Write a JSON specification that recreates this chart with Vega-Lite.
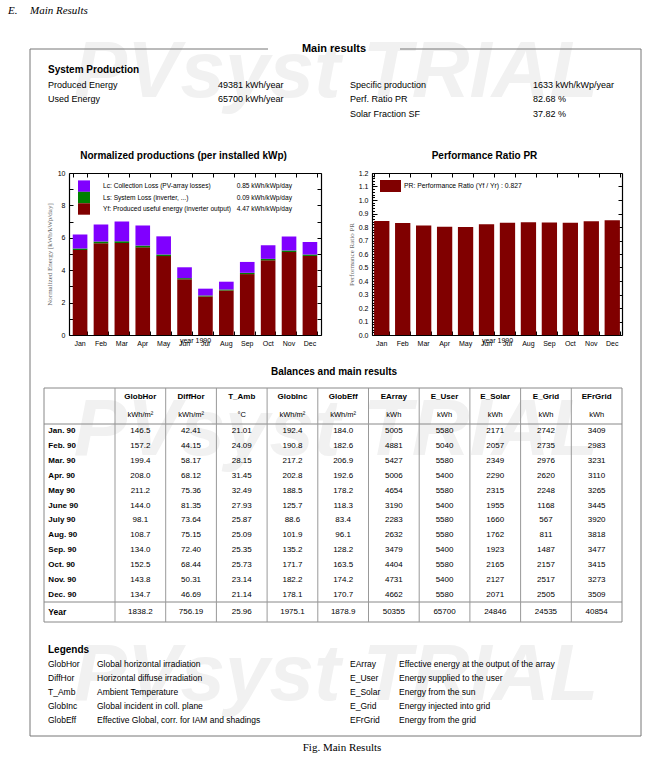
{
  "$schema": "https://vega.github.io/schema/vega-lite/v6.json",
  "padding": 0,
  "background": "white",
  "spacing": 0,
  "bounds": "flush",
  "config": {
    "view": {"stroke": null},
    "font": "Liberation Sans",
    "text": {"font": "Liberation Sans", "fontSize": 9, "color": "#000", "baseline": "middle", "align": "left"},
    "rule": {"color": "#777", "strokeWidth": 1},
    "concat": {"spacing": 0},
    "axis": {"labelFont": "Liberation Sans", "titleFont": "Liberation Sans", "labelColor": "#000", "tickColor": "#000", "domain": false, "grid": false}
  },
  "datasets": {
    "one": [{}],
    "sysprod": [
      {"col": "L", "row": "1", "label": "Produced Energy", "value": "49381 kWh/year"},
      {"col": "L", "row": "2", "label": "Used Energy", "value": "65700 kWh/year"},
      {"col": "R", "row": "1", "label": "Specific production", "value": "1633 kWh/kWp/year"},
      {"col": "R", "row": "2", "label": "Perf. Ratio PR", "value": "82.68 %"},
      {"col": "R", "row": "3", "label": "Solar Fraction SF", "value": "37.82 %"}
    ],
    "norm": [
      {"m": "Jan", "Yf": 5.24, "Ls": 0.10, "Lc": 0.87},
      {"m": "Feb", "Yf": 5.66, "Ls": 0.11, "Lc": 1.05},
      {"m": "Mar", "Yf": 5.68, "Ls": 0.11, "Lc": 1.22},
      {"m": "Apr", "Yf": 5.41, "Ls": 0.11, "Lc": 1.24},
      {"m": "May", "Yf": 4.87, "Ls": 0.10, "Lc": 1.12},
      {"m": "Jun", "Yf": 3.44, "Ls": 0.07, "Lc": 0.67},
      {"m": "Jul", "Yf": 2.38, "Ls": 0.06, "Lc": 0.42},
      {"m": "Aug", "Yf": 2.75, "Ls": 0.06, "Lc": 0.48},
      {"m": "Sep", "Yf": 3.76, "Ls": 0.08, "Lc": 0.67},
      {"m": "Oct", "Yf": 4.61, "Ls": 0.09, "Lc": 0.84},
      {"m": "Nov", "Yf": 5.12, "Ls": 0.10, "Lc": 0.86},
      {"m": "Dec", "Yf": 4.88, "Ls": 0.09, "Lc": 0.77}
    ],
    "pr": [
      {"m": "Jan", "pr": 0.845}, {"m": "Feb", "pr": 0.830}, {"m": "Mar", "pr": 0.811},
      {"m": "Apr", "pr": 0.801}, {"m": "May", "pr": 0.800}, {"m": "Jun", "pr": 0.821},
      {"m": "Jul", "pr": 0.831}, {"m": "Aug", "pr": 0.835}, {"m": "Sep", "pr": 0.834},
      {"m": "Oct", "pr": 0.832}, {"m": "Nov", "pr": 0.843}, {"m": "Dec", "pr": 0.850}
    ],
    "normLegend": [
      {"item": "Lc", "label": "Lc: Collection Loss (PV-array losses)", "val": "0.85 kWh/kWp/day"},
      {"item": "Ls", "label": "Ls: System Loss (inverter, ...)", "val": "0.09 kWh/kWp/day"},
      {"item": "Yf", "label": "Yf: Produced useful energy (inverter output)", "val": "4.47 kWh/kWp/day"}
    ],
    "prLegend": [
      {"item": "PR", "label": "PR: Performance Ratio (Yf / Yr) :  0.827"}
    ],
    "tblHead": [
      {"col": "GlobHor", "unit": "kWh/m²"}, {"col": "DiffHor", "unit": "kWh/m²"},
      {"col": "T_Amb", "unit": "°C"}, {"col": "GlobInc", "unit": "kWh/m²"},
      {"col": "GlobEff", "unit": "kWh/m²"}, {"col": "EArray", "unit": "kWh"},
      {"col": "E_User", "unit": "kWh"}, {"col": "E_Solar", "unit": "kWh"},
      {"col": "E_Grid", "unit": "kWh"}, {"col": "EFrGrid", "unit": "kWh"}
    ],
    "tbl": [
      {"month": "Jan. 90", "GlobHor": 146.5, "DiffHor": 42.41, "T_Amb": 21.01, "GlobInc": 192.4, "GlobEff": 184.0, "EArray": 5005, "E_User": 5580, "E_Solar": 2171, "E_Grid": 2742, "EFrGrid": 3409},
      {"month": "Feb. 90", "GlobHor": 157.2, "DiffHor": 44.15, "T_Amb": 24.09, "GlobInc": 190.8, "GlobEff": 182.6, "EArray": 4881, "E_User": 5040, "E_Solar": 2057, "E_Grid": 2735, "EFrGrid": 2983},
      {"month": "Mar. 90", "GlobHor": 199.4, "DiffHor": 58.17, "T_Amb": 28.15, "GlobInc": 217.2, "GlobEff": 206.9, "EArray": 5427, "E_User": 5580, "E_Solar": 2349, "E_Grid": 2976, "EFrGrid": 3231},
      {"month": "Apr. 90", "GlobHor": 208.0, "DiffHor": 68.12, "T_Amb": 31.45, "GlobInc": 202.8, "GlobEff": 192.6, "EArray": 5006, "E_User": 5400, "E_Solar": 2290, "E_Grid": 2620, "EFrGrid": 3110},
      {"month": "May 90", "GlobHor": 211.2, "DiffHor": 75.36, "T_Amb": 32.49, "GlobInc": 188.5, "GlobEff": 178.2, "EArray": 4654, "E_User": 5580, "E_Solar": 2315, "E_Grid": 2248, "EFrGrid": 3265},
      {"month": "June 90", "GlobHor": 144.0, "DiffHor": 81.35, "T_Amb": 27.93, "GlobInc": 125.7, "GlobEff": 118.3, "EArray": 3190, "E_User": 5400, "E_Solar": 1955, "E_Grid": 1168, "EFrGrid": 3445},
      {"month": "July 90", "GlobHor": 98.1, "DiffHor": 73.64, "T_Amb": 25.87, "GlobInc": 88.6, "GlobEff": 83.4, "EArray": 2283, "E_User": 5580, "E_Solar": 1660, "E_Grid": 567, "EFrGrid": 3920},
      {"month": "Aug. 90", "GlobHor": 108.7, "DiffHor": 75.15, "T_Amb": 25.09, "GlobInc": 101.9, "GlobEff": 96.1, "EArray": 2632, "E_User": 5580, "E_Solar": 1762, "E_Grid": 811, "EFrGrid": 3818},
      {"month": "Sep. 90", "GlobHor": 134.0, "DiffHor": 72.40, "T_Amb": 25.35, "GlobInc": 135.2, "GlobEff": 128.2, "EArray": 3479, "E_User": 5400, "E_Solar": 1923, "E_Grid": 1487, "EFrGrid": 3477},
      {"month": "Oct. 90", "GlobHor": 152.5, "DiffHor": 68.44, "T_Amb": 25.73, "GlobInc": 171.7, "GlobEff": 163.5, "EArray": 4404, "E_User": 5580, "E_Solar": 2165, "E_Grid": 2157, "EFrGrid": 3415},
      {"month": "Nov. 90", "GlobHor": 143.8, "DiffHor": 50.31, "T_Amb": 23.14, "GlobInc": 182.2, "GlobEff": 174.2, "EArray": 4731, "E_User": 5400, "E_Solar": 2127, "E_Grid": 2517, "EFrGrid": 3273},
      {"month": "Dec. 90", "GlobHor": 134.7, "DiffHor": 46.69, "T_Amb": 21.14, "GlobInc": 178.1, "GlobEff": 170.7, "EArray": 4662, "E_User": 5580, "E_Solar": 2071, "E_Grid": 2505, "EFrGrid": 3509},
      {"month": "Year", "GlobHor": 1838.2, "DiffHor": 756.19, "T_Amb": 25.96, "GlobInc": 1975.1, "GlobEff": 1878.9, "EArray": 50355, "E_User": 65700, "E_Solar": 24846, "E_Grid": 24535, "EFrGrid": 40854}
    ],
    "legend": [
      {"col": "L", "row": "1", "code": "GlobHor", "desc": "Global horizontal irradiation"},
      {"col": "L", "row": "2", "code": "DiffHor", "desc": "Horizontal diffuse irradiation"},
      {"col": "L", "row": "3", "code": "T_Amb", "desc": "Ambient Temperature"},
      {"col": "L", "row": "4", "code": "GlobInc", "desc": "Global incident in coll. plane"},
      {"col": "L", "row": "5", "code": "GlobEff", "desc": "Effective Global, corr. for IAM and shadings"},
      {"col": "R", "row": "1", "code": "EArray", "desc": "Effective energy at the output of the array"},
      {"col": "R", "row": "2", "code": "E_User", "desc": "Energy supplied to the user"},
      {"col": "R", "row": "3", "code": "E_Solar", "desc": "Energy from the sun"},
      {"col": "R", "row": "4", "code": "E_Grid", "desc": "Energy injected into grid"},
      {"col": "R", "row": "5", "code": "EFrGrid", "desc": "Energy from the grid"}
    ]
  },
  "vconcat": [
    {
      "width": 648, "height": 60,
      "data": {"name": "one"},
      "layer": [
        {"mark": {"type": "text", "align": "center", "baseline": "alphabetic", "fontSize": 80, "fontWeight": "bold", "fontStyle": "italic", "color": "#f1f1f1"},
         "encoding": {"x": {"datum": 336, "type": "quantitative", "scale": {"domain": [0, 648], "nice": false, "zero": false}, "axis": null},
                      "y": {"datum": 97, "type": "quantitative", "scale": {"domain": [60, 0], "nice": false, "zero": false}, "axis": null},
                      "text": {"value": "PVsyst TRIAL"}}},
        {"mark": {"type": "text", "font": "Liberation Serif", "fontStyle": "italic", "fontSize": 11},
         "encoding": {"x": {"datum": 8, "type": "quantitative"}, "y": {"datum": 11, "type": "quantitative"}, "text": {"value": "E."}}},
        {"mark": {"type": "text", "font": "Liberation Serif", "fontStyle": "italic", "fontSize": 11},
         "encoding": {"x": {"datum": 30, "type": "quantitative"}, "y": {"datum": 11, "type": "quantitative"}, "text": {"value": "Main Results"}}},
        {"mark": {"type": "rule"},
         "encoding": {"x": {"datum": 30, "type": "quantitative"}, "x2": {"datum": 268}, "y": {"datum": 49, "type": "quantitative"}}},
        {"mark": {"type": "rule"},
         "encoding": {"x": {"datum": 400, "type": "quantitative"}, "x2": {"datum": 641}, "y": {"datum": 49, "type": "quantitative"}}},
        {"mark": {"type": "text", "align": "center", "fontSize": 11, "fontWeight": "bold"},
         "encoding": {"x": {"datum": 334, "type": "quantitative"}, "y": {"datum": 49, "type": "quantitative"}, "text": {"value": "Main results"}}},
        {"mark": {"type": "rule"},
         "encoding": {"x": {"datum": 30, "type": "quantitative"}, "y": {"datum": 49, "type": "quantitative"}, "y2": {"datum": 60}}},
        {"mark": {"type": "rule"},
         "encoding": {"x": {"datum": 641, "type": "quantitative"}, "y": {"datum": 49, "type": "quantitative"}, "y2": {"datum": 60}}}
      ]
    },
    {
      "width": 648, "height": 113,
      "layer": [
        {"data": {"name": "one"},
         "mark": {"type": "text", "fontSize": 10, "fontWeight": "bold"},
         "encoding": {"x": {"datum": 48, "type": "quantitative", "scale": {"domain": [0, 648], "nice": false, "zero": false}, "axis": null},
                      "y": {"datum": "h", "type": "nominal", "scale": {"type": "point", "domain": ["h", "1", "2", "3"], "range": [10, 53.5], "padding": 0}, "axis": null},
                      "text": {"value": "System Production"}}},
        {"data": {"name": "sysprod"}, "transform": [{"filter": {"field": "col", "equal": "L"}}],
         "mark": {"type": "text", "fontSize": 9},
         "encoding": {"x": {"datum": 48, "type": "quantitative"}, "y": {"field": "row", "type": "nominal"}, "text": {"field": "label"}}},
        {"data": {"name": "sysprod"}, "transform": [{"filter": {"field": "col", "equal": "L"}}],
         "mark": {"type": "text", "fontSize": 9},
         "encoding": {"x": {"datum": 218, "type": "quantitative"}, "y": {"field": "row", "type": "nominal"}, "text": {"field": "value"}}},
        {"data": {"name": "sysprod"}, "transform": [{"filter": {"field": "col", "equal": "R"}}],
         "mark": {"type": "text", "fontSize": 9},
         "encoding": {"x": {"datum": 350, "type": "quantitative"}, "y": {"field": "row", "type": "nominal"}, "text": {"field": "label"}}},
        {"data": {"name": "sysprod"}, "transform": [{"filter": {"field": "col", "equal": "R"}}],
         "mark": {"type": "text", "fontSize": 9},
         "encoding": {"x": {"datum": 533, "type": "quantitative"}, "y": {"field": "row", "type": "nominal"}, "text": {"field": "value"}}},
        {"data": {"name": "one"}, "mark": {"type": "rule"}, "encoding": {"x": {"datum": 30, "type": "quantitative"}}},
        {"data": {"name": "one"}, "mark": {"type": "rule"}, "encoding": {"x": {"datum": 641, "type": "quantitative"}}}
      ]
    },
    {
      "width": 648, "height": 162,
      "layer": [
        {
          "data": {"name": "norm"},
          "transform": [{"fold": ["Yf", "Ls", "Lc"], "as": ["comp", "v"]}],
          "layer": [
            {"mark": {"type": "bar"},
             "encoding": {
               "x": {"field": "m", "type": "nominal", "scale": {"domain": ["Jan","Feb","Mar","Apr","May","Jun","Jul","Aug","Sep","Oct","Nov","Dec"], "range": [69, 321], "paddingInner": 0.3, "paddingOuter": 0.18},
                     "axis": {"orient": "bottom", "labelFontSize": 7, "labelAngle": 0, "labelPadding": 4, "ticks": false, "domain": true, "domainColor": "#000", "domainWidth": 1.2, "title": "year 1990", "titleFontSize": 7, "titleFontWeight": "normal", "titlePadding": -10}},
               "y": {"field": "v", "type": "quantitative", "stack": "zero", "scale": {"domain": [0, 10], "nice": false},
                     "axis": {"orient": "left", "offset": -69, "values": [0, 2, 4, 6, 8, 10], "labelFontSize": 7, "labelPadding": 4, "ticks": false, "domain": true, "domainColor": "#000", "domainWidth": 1.2, "grid": false, "title": "Normalized Energy [kWh/kWp/day]", "titleFont": "Liberation Serif", "titleFontSize": 7, "titleFontWeight": "normal", "titleColor": "#666", "titlePadding": 5}},
               "color": {"field": "comp", "type": "nominal", "scale": {"domain": ["Lc", "Ls", "Yf"], "range": ["#8000ff", "#008000", "#800000"]}, "legend": null},
               "order": {"field": "comp", "type": "nominal", "sort": "descending"}
             }},
            {"mark": {"type": "bar", "opacity": 0},
             "encoding": {
               "x": {"field": "m", "type": "nominal", "axis": {"orient": "bottom", "labels": false, "tickSize": -4, "tickBand": "extent", "title": null}},
               "y": {"field": "v", "type": "quantitative", "stack": "zero", "axis": {"orient": "left", "offset": -69, "values": [0,1,2,3,4,5,6,7,8,9,10], "labels": false, "tickSize": -4, "grid": false, "title": null}},
               "order": {"field": "comp", "type": "nominal", "sort": "descending"}
             }},
            {"mark": {"type": "bar", "opacity": 0},
             "encoding": {
               "x": {"field": "m", "type": "nominal", "axis": {"orient": "top", "labels": false, "tickSize": -4, "tickBand": "extent", "domain": true, "domainColor": "#000", "domainWidth": 1.2, "title": "Normalized productions (per installed kWp)", "titleFontSize": 10, "titleFontWeight": "bold", "titleColor": "#000", "titleX": 183, "titlePadding": 12}},
               "y": {"field": "v", "type": "quantitative", "stack": "zero", "axis": {"orient": "right", "offset": -327, "values": [0,1,2,3,4,5,6,7,8,9,10], "labels": false, "tickSize": -4, "domain": true, "domainColor": "#000", "domainWidth": 1.2, "grid": false, "title": null}},
               "order": {"field": "comp", "type": "nominal", "sort": "descending"}
             }}
          ],
          "resolve": {"axis": {"x": "independent", "y": "independent"}}
        },
        {
          "data": {"name": "pr"},
          "layer": [
            {"mark": {"type": "bar", "color": "#800000"},
             "encoding": {
               "x": {"field": "m", "type": "nominal", "scale": {"domain": ["Jan","Feb","Mar","Apr","May","Jun","Jul","Aug","Sep","Oct","Nov","Dec"], "range": [372, 622], "paddingInner": 0.27, "paddingOuter": 0.1},
                     "axis": {"orient": "bottom", "labelFontSize": 7, "labelAngle": 0, "labelPadding": 4, "ticks": false, "domain": true, "domainColor": "#000", "domainWidth": 1.2, "title": "year 1990", "titleFontSize": 7, "titleFontWeight": "normal", "titlePadding": -10}},
               "y": {"field": "pr", "type": "quantitative", "scale": {"domain": [0, 1.2], "nice": false},
                     "axis": {"orient": "left", "offset": -372, "values": [0,0.1,0.2,0.3,0.4,0.5,0.6,0.7,0.8,0.9,1,1.1,1.2], "format": ".1f", "labelFontSize": 7, "labelPadding": 4, "ticks": false, "domain": true, "domainColor": "#000", "domainWidth": 1.2, "grid": false, "title": "Performance Ratio PR", "titleFont": "Liberation Serif", "titleFontSize": 7, "titleFontWeight": "normal", "titleColor": "#666", "titlePadding": 4}}
             }},
            {"mark": {"type": "bar", "opacity": 0},
             "encoding": {
               "x": {"field": "m", "type": "nominal", "axis": {"orient": "bottom", "labels": false, "tickSize": -4, "tickBand": "extent", "title": null}},
               "y": {"field": "pr", "type": "quantitative", "axis": {"orient": "left", "offset": -372, "values": [0,0.1,0.2,0.3,0.4,0.5,0.6,0.7,0.8,0.9,1,1.1,1.2], "labels": false, "tickSize": -5, "grid": false, "title": null}}
             }},
            {"mark": {"type": "bar", "opacity": 0},
             "encoding": {
               "x": {"field": "m", "type": "nominal", "axis": {"orient": "top", "labels": false, "tickSize": -4, "tickBand": "extent", "domain": true, "domainColor": "#000", "domainWidth": 1.2, "title": "Performance Ratio PR", "titleFontSize": 10, "titleFontWeight": "bold", "titleColor": "#000", "titleX": 484, "titlePadding": 12}},
               "y": {"field": "pr", "type": "quantitative", "axis": {"orient": "right", "offset": -26, "values": [0,0.1,0.2,0.3,0.4,0.5,0.6,0.7,0.8,0.9,1,1.1,1.2], "labels": false, "tickSize": -4, "domain": true, "domainColor": "#000", "domainWidth": 1.2, "grid": false, "title": null}}
             }},
            {"mark": {"type": "bar", "opacity": 0},
             "encoding": {
               "x": {"field": "m", "type": "nominal", "axis": null},
               "y": {"field": "pr", "type": "quantitative", "axis": {"orient": "left", "offset": -372, "values": [0,0.02,0.04,0.06,0.08,0.1,0.12,0.14,0.16,0.18,0.2,0.22,0.24,0.26,0.28,0.3,0.32,0.34,0.36,0.38,0.4,0.42,0.44,0.46,0.48,0.5,0.52,0.54,0.56,0.58,0.6,0.62,0.64,0.66,0.68,0.7,0.72,0.74,0.76,0.78,0.8,0.82,0.84,0.86,0.88,0.9,0.92,0.94,0.96,0.98,1,1.02,1.04,1.06,1.08,1.1,1.12,1.14,1.16,1.18,1.2], "labels": false, "tickSize": -2.5, "grid": false, "title": null}}
             }}
          ],
          "resolve": {"axis": {"x": "independent", "y": "independent"}}
        },
        {
          "data": {"name": "normLegend"},
          "layer": [
            {"mark": {"type": "rect"},
             "encoding": {
               "x": {"datum": 78, "type": "quantitative", "scale": {"domain": [0, 648], "nice": false, "zero": false}, "axis": null},
               "x2": {"datum": 90},
               "y": {"field": "item", "type": "nominal", "scale": {"type": "band", "domain": ["Lc", "Ls", "Yf"], "range": [7.4, 41.7], "paddingInner": 0, "paddingOuter": 0}, "axis": null},
               "color": {"field": "item", "type": "nominal", "scale": {"domain": ["Lc", "Ls", "Yf"], "range": ["#8000ff", "#008000", "#800000"]}, "legend": null}
             }},
            {"mark": {"type": "text", "fontSize": 6.6},
             "encoding": {"x": {"datum": 103, "type": "quantitative"}, "y": {"field": "item", "type": "nominal"}, "text": {"field": "label"}}},
            {"mark": {"type": "text", "fontSize": 6.6, "align": "right"},
             "encoding": {"x": {"datum": 292, "type": "quantitative"}, "y": {"field": "item", "type": "nominal"}, "text": {"field": "val"}}}
          ]
        },
        {
          "data": {"name": "prLegend"},
          "layer": [
            {"mark": {"type": "rect", "color": "#800000"},
             "encoding": {
               "x": {"datum": 380, "type": "quantitative", "scale": {"domain": [0, 648], "nice": false, "zero": false}, "axis": null},
               "x2": {"datum": 401},
               "y": {"field": "item", "type": "nominal", "scale": {"type": "band", "domain": ["PR"], "range": [7, 19], "paddingInner": 0, "paddingOuter": 0}, "axis": null}
             }},
            {"mark": {"type": "text", "fontSize": 6.8},
             "encoding": {"x": {"datum": 404, "type": "quantitative"}, "y": {"field": "item", "type": "nominal"}, "text": {"field": "label"}}}
          ]
        },
        {
          "data": {"name": "one"},
          "layer": [
            {"mark": {"type": "rule"}, "encoding": {"x": {"datum": 30, "type": "quantitative", "scale": {"domain": [0, 648], "nice": false, "zero": false}, "axis": null}}},
            {"mark": {"type": "rule"}, "encoding": {"x": {"datum": 641, "type": "quantitative"}}}
          ]
        }
      ],
      "resolve": {"scale": {"x": "independent", "y": "independent"}}
    },
    {
      "width": 648, "height": 53,
      "data": {"name": "one"},
      "layer": [
        {"mark": {"type": "text", "align": "center", "fontSize": 10, "fontWeight": "bold"},
         "encoding": {"x": {"datum": 334, "type": "quantitative", "scale": {"domain": [0, 648], "nice": false, "zero": false}, "axis": null},
                      "y": {"datum": 37, "type": "quantitative", "scale": {"domain": [53, 0], "nice": false, "zero": false}, "axis": null},
                      "text": {"value": "Balances and main results"}}},
        {"mark": {"type": "rule"}, "encoding": {"x": {"datum": 30, "type": "quantitative"}}},
        {"mark": {"type": "rule"}, "encoding": {"x": {"datum": 641, "type": "quantitative"}}}
      ]
    },
    {
      "width": 648, "height": 234,
      "layer": [
        {
          "data": {"name": "one"},
          "layer": [
            {"mark": {"type": "text", "align": "center", "baseline": "alphabetic", "fontSize": 80, "fontWeight": "bold", "fontStyle": "italic", "color": "#f1f1f1"},
             "encoding": {"x": {"datum": 336, "type": "quantitative", "scale": {"domain": [0, 648], "nice": false, "zero": false}, "axis": null},
                          "y": {"datum": 67, "type": "quantitative", "scale": {"domain": [234, 0], "nice": false, "zero": false}, "axis": null},
                          "text": {"value": "PVsyst TRIAL"}}},
            {"mark": {"type": "text", "align": "center", "baseline": "alphabetic", "fontSize": 80, "fontWeight": "bold", "fontStyle": "italic", "color": "#f1f1f1"},
             "encoding": {"x": {"datum": 336, "type": "quantitative"}, "y": {"datum": 312, "type": "quantitative"}, "text": {"value": "PVsyst TRIAL"}}},
            {"mark": {"type": "rect", "filled": false, "color": "#888", "strokeWidth": 1},
             "encoding": {"x": {"datum": 44, "type": "quantitative"}, "x2": {"datum": 622}, "y": {"datum": 0, "type": "quantitative"}, "y2": {"datum": 234}}},
            {"mark": {"type": "rule", "color": "#888"},
             "encoding": {"x": {"datum": 44, "type": "quantitative"}, "x2": {"datum": 622}, "y": {"datum": 36, "type": "quantitative"}}},
            {"mark": {"type": "rule", "color": "#888"},
             "encoding": {"x": {"datum": 44, "type": "quantitative"}, "x2": {"datum": 622}, "y": {"datum": 214, "type": "quantitative"}}},
            {"mark": {"type": "rule"}, "encoding": {"x": {"datum": 30, "type": "quantitative"}}},
            {"mark": {"type": "rule"}, "encoding": {"x": {"datum": 641, "type": "quantitative"}}}
          ]
        },
        {
          "data": {"name": "tblHead"},
          "mark": {"type": "rule", "color": "#999"},
          "encoding": {"x": {"field": "col", "type": "nominal", "scale": {"type": "point", "domain": ["GlobHor","DiffHor","T_Amb","GlobInc","GlobEff","EArray","E_User","E_Solar","E_Grid","EFrGrid","end"], "range": [115, 622], "padding": 0}, "axis": null}}
        },
        {
          "data": {"name": "tblHead"},
          "layer": [
            {"mark": {"type": "text", "align": "center", "fontSize": 8, "fontWeight": "bold"},
             "encoding": {
               "x": {"field": "col", "type": "nominal", "scale": {"domain": ["GlobHor","DiffHor","T_Amb","GlobInc","GlobEff","EArray","E_User","E_Solar","E_Grid","EFrGrid"], "range": [115, 622], "paddingInner": 0, "paddingOuter": 0}, "axis": null},
               "y": {"datum": "n", "type": "nominal", "scale": {"type": "band", "domain": ["n", "u"], "range": [0, 36], "paddingInner": 0, "paddingOuter": 0}, "axis": null},
               "text": {"field": "col"}
             }},
            {"mark": {"type": "text", "align": "center", "fontSize": 7.5},
             "encoding": {
               "x": {"field": "col", "type": "nominal"},
               "y": {"datum": "u", "type": "nominal"},
               "text": {"field": "unit"}
             }}
          ]
        },
        {
          "data": {"name": "tbl"},
          "transform": [{"filter": {"not": {"field": "month", "equal": "Year"}}}],
          "layer": [
            {"mark": {"type": "text", "fontSize": 8, "fontWeight": "bold", "dx": -92},
             "encoding": {
               "x": {"datum": "GlobHor", "type": "nominal", "scale": {"domain": ["GlobHor","DiffHor","T_Amb","GlobInc","GlobEff","EArray","E_User","E_Solar","E_Grid","EFrGrid"], "range": [115, 622], "paddingInner": 0, "paddingOuter": 0}, "axis": null},
               "y": {"field": "month", "type": "nominal", "scale": {"domain": ["Jan. 90","Feb. 90","Mar. 90","Apr. 90","May 90","June 90","July 90","Aug. 90","Sep. 90","Oct. 90","Nov. 90","Dec. 90"], "range": [36, 214], "paddingInner": 0, "paddingOuter": 0}, "axis": null},
               "text": {"field": "month"}
             }},
            {"transform": [{"fold": ["GlobHor","DiffHor","T_Amb","GlobInc","GlobEff","EArray","E_User","E_Solar","E_Grid","EFrGrid"], "as": ["col", "val"]}, {"filter": {"field": "col", "oneOf": ["GlobHor", "GlobInc", "GlobEff"]}}],
             "mark": {"type": "text", "align": "center", "fontSize": 8},
             "encoding": {"x": {"field": "col", "type": "nominal"}, "y": {"field": "month", "type": "nominal"}, "text": {"field": "val", "type": "quantitative", "format": ".1f"}}},
            {"transform": [{"fold": ["GlobHor","DiffHor","T_Amb","GlobInc","GlobEff","EArray","E_User","E_Solar","E_Grid","EFrGrid"], "as": ["col", "val"]}, {"filter": {"field": "col", "oneOf": ["DiffHor", "T_Amb"]}}],
             "mark": {"type": "text", "align": "center", "fontSize": 8},
             "encoding": {"x": {"field": "col", "type": "nominal"}, "y": {"field": "month", "type": "nominal"}, "text": {"field": "val", "type": "quantitative", "format": ".2f"}}},
            {"transform": [{"fold": ["GlobHor","DiffHor","T_Amb","GlobInc","GlobEff","EArray","E_User","E_Solar","E_Grid","EFrGrid"], "as": ["col", "val"]}, {"filter": {"field": "col", "oneOf": ["EArray", "E_User", "E_Solar", "E_Grid", "EFrGrid"]}}],
             "mark": {"type": "text", "align": "center", "fontSize": 8},
             "encoding": {"x": {"field": "col", "type": "nominal"}, "y": {"field": "month", "type": "nominal"}, "text": {"field": "val", "type": "quantitative", "format": "d"}}}
          ]
        },
        {
          "data": {"name": "tbl"},
          "transform": [{"filter": {"field": "month", "equal": "Year"}}],
          "layer": [
            {"mark": {"type": "text", "fontSize": 8.5, "fontWeight": "bold", "dx": -92},
             "encoding": {
               "x": {"datum": "GlobHor", "type": "nominal", "scale": {"domain": ["GlobHor","DiffHor","T_Amb","GlobInc","GlobEff","EArray","E_User","E_Solar","E_Grid","EFrGrid"], "range": [115, 622], "paddingInner": 0, "paddingOuter": 0}, "axis": null},
               "y": {"field": "month", "type": "nominal", "scale": {"domain": ["Year"], "range": [214, 234], "paddingInner": 0, "paddingOuter": 0}, "axis": null},
               "text": {"field": "month"}
             }},
            {"transform": [{"fold": ["GlobHor","DiffHor","T_Amb","GlobInc","GlobEff","EArray","E_User","E_Solar","E_Grid","EFrGrid"], "as": ["col", "val"]}, {"filter": {"field": "col", "oneOf": ["GlobHor", "GlobInc", "GlobEff"]}}],
             "mark": {"type": "text", "align": "center", "fontSize": 8},
             "encoding": {"x": {"field": "col", "type": "nominal"}, "y": {"field": "month", "type": "nominal"}, "text": {"field": "val", "type": "quantitative", "format": ".1f"}}},
            {"transform": [{"fold": ["GlobHor","DiffHor","T_Amb","GlobInc","GlobEff","EArray","E_User","E_Solar","E_Grid","EFrGrid"], "as": ["col", "val"]}, {"filter": {"field": "col", "oneOf": ["DiffHor", "T_Amb"]}}],
             "mark": {"type": "text", "align": "center", "fontSize": 8},
             "encoding": {"x": {"field": "col", "type": "nominal"}, "y": {"field": "month", "type": "nominal"}, "text": {"field": "val", "type": "quantitative", "format": ".2f"}}},
            {"transform": [{"fold": ["GlobHor","DiffHor","T_Amb","GlobInc","GlobEff","EArray","E_User","E_Solar","E_Grid","EFrGrid"], "as": ["col", "val"]}, {"filter": {"field": "col", "oneOf": ["EArray", "E_User", "E_Solar", "E_Grid", "EFrGrid"]}}],
             "mark": {"type": "text", "align": "center", "fontSize": 8},
             "encoding": {"x": {"field": "col", "type": "nominal"}, "y": {"field": "month", "type": "nominal"}, "text": {"field": "val", "type": "quantitative", "format": "d"}}}
          ]
        }
      ],
      "resolve": {"scale": {"x": "independent", "y": "independent"}}
    },
    {
      "width": 648, "height": 114,
      "layer": [
        {"data": {"name": "one"},
         "mark": {"type": "text", "fontSize": 10, "fontWeight": "bold"},
         "encoding": {"x": {"datum": 48, "type": "quantitative", "scale": {"domain": [0, 648], "nice": false, "zero": false}, "axis": null},
                      "y": {"datum": "h", "type": "nominal", "scale": {"type": "point", "domain": ["h", "1", "2", "3", "4", "5"], "range": [28, 98], "padding": 0}, "axis": null},
                      "text": {"value": "Legends"}}},
        {"data": {"name": "legend"}, "transform": [{"filter": {"field": "col", "equal": "L"}}],
         "mark": {"type": "text", "fontSize": 8.5},
         "encoding": {"x": {"datum": 48, "type": "quantitative"}, "y": {"field": "row", "type": "nominal"}, "text": {"field": "code"}}},
        {"data": {"name": "legend"}, "transform": [{"filter": {"field": "col", "equal": "L"}}],
         "mark": {"type": "text", "fontSize": 8.5},
         "encoding": {"x": {"datum": 97, "type": "quantitative"}, "y": {"field": "row", "type": "nominal"}, "text": {"field": "desc"}}},
        {"data": {"name": "legend"}, "transform": [{"filter": {"field": "col", "equal": "R"}}],
         "mark": {"type": "text", "fontSize": 8.5},
         "encoding": {"x": {"datum": 350, "type": "quantitative"}, "y": {"field": "row", "type": "nominal"}, "text": {"field": "code"}}},
        {"data": {"name": "legend"}, "transform": [{"filter": {"field": "col", "equal": "R"}}],
         "mark": {"type": "text", "fontSize": 8.5},
         "encoding": {"x": {"datum": 399, "type": "quantitative"}, "y": {"field": "row", "type": "nominal"}, "text": {"field": "desc"}}},
        {"data": {"name": "one"}, "mark": {"type": "rule"}, "encoding": {"x": {"datum": 30, "type": "quantitative"}}},
        {"data": {"name": "one"}, "mark": {"type": "rule"}, "encoding": {"x": {"datum": 641, "type": "quantitative"}}}
      ]
    },
    {
      "width": 648, "height": 26,
      "data": {"name": "one"},
      "layer": [
        {"mark": {"type": "rule"},
         "encoding": {"x": {"datum": 30, "type": "quantitative", "scale": {"domain": [0, 648], "nice": false, "zero": false}, "axis": null},
                      "x2": {"datum": 641},
                      "y": {"datum": 0, "type": "quantitative", "scale": {"domain": [26, 0], "nice": false, "zero": false}, "axis": null}}},
        {"mark": {"type": "text", "align": "center", "font": "Liberation Serif", "fontSize": 11},
         "encoding": {"x": {"datum": 342, "type": "quantitative"}, "y": {"datum": 12, "type": "quantitative"}, "text": {"value": "Fig. Main Results"}}}
      ]
    }
  ]
}
